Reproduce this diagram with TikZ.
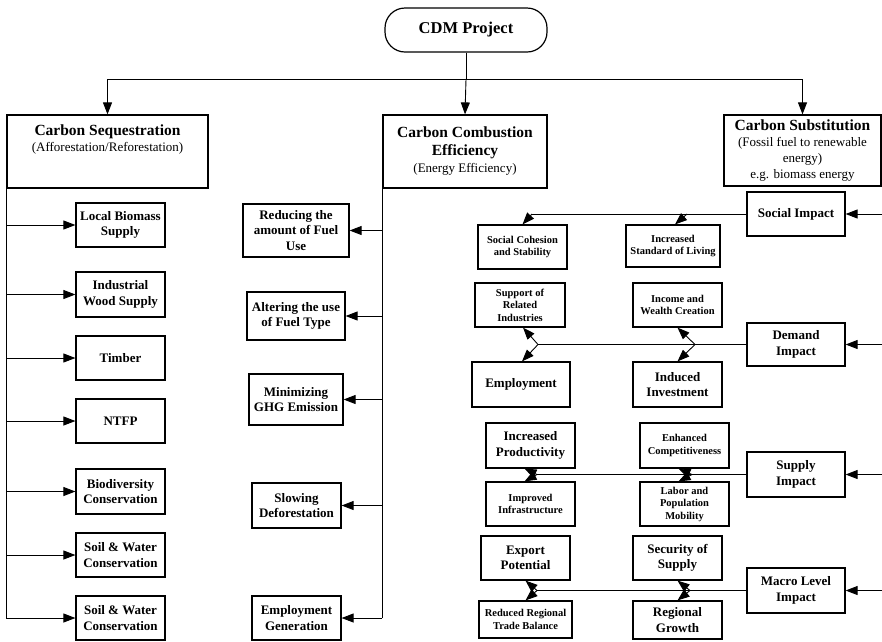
\documentclass[tikz,border=0pt]{standalone}
\usepackage{fontspec}
\setmainfont{Liberation Serif}
\usetikzlibrary{arrows.meta}
\begin{document}
\begin{tikzpicture}[x=1pt,y=-1pt,
  box/.style={draw, line width=1.2pt, align=center, inner sep=1pt,
    font=\bfseries\fontsize{13}{15.5}\selectfont},
  smallbox/.style={box, font=\bfseries\fontsize{10.5}{12.5}\selectfont},
  titlebox/.style={draw, line width=1.2pt, align=center, inner sep=1pt,
    font=\fontsize{13}{16}\selectfont},
  arr/.style={-{Triangle[length=12pt,width=9pt]}, line width=0.9pt},
  ln/.style={line width=0.9pt}]
\useasboundingbox (0,0) rectangle (882,641);

% root and the three branches
\node[draw, line width=1.2pt, rounded corners=20pt, minimum width=162pt, minimum height=44pt,
  font=\bfseries\fontsize{16.5}{19}\selectfont] (cdm) at (466,30) {CDM Project};
\node[titlebox, minimum width=201pt, minimum height=73pt] (seq) at (107.5,151.5) {};
\node[align=center, font=\fontsize{13}{16}\selectfont] (seqtxt) at (107.5,139)
  {{\bfseries\fontsize{15.5}{18}\selectfont Carbon Sequestration}\\(Afforestation/Reforestation)};
\node[titlebox, minimum width=164pt, minimum height=73pt] (comb) at (465,151.5)
  {{\bfseries\fontsize{15.5}{18}\selectfont Carbon Combustion}\\[2pt]{\bfseries\fontsize{15.5}{18}\selectfont Efficiency}\\[1pt](Energy Efficiency)};
\node[titlebox, minimum width=157pt, minimum height=71pt] (subst) at (802.5,150.5)
  {{\bfseries\fontsize{15.5}{18}\selectfont Carbon Substitution}\\(Fossil fuel to renewable\\energy)\\e.g. biomass energy};

\coordinate (hub) at (466,79);
\draw[ln] (cdm.south) -- (hub);
\draw[ln] (seq.north |- hub) -- (subst.north |- hub);
\draw[arr] (seq.north |- hub) -- (seq.north);
\draw[arr] (hub) -- (comb.north);
\draw[arr] (subst.north |- hub) -- (subst.north);

% sequestration outputs
\node[box, minimum width=89pt, minimum height=44pt] (lbs) at (120.5,225) {Local Biomass\\Supply};
\node[box, minimum width=89pt, minimum height=45pt] (iws) at (120.5,294.5) {Industrial\\Wood Supply};
\node[box, minimum width=89pt, minimum height=44pt] (tim) at (120.5,358) {Timber};
\node[box, minimum width=89pt, minimum height=44pt] (ntfp) at (120.5,421) {NTFP};
\node[box, minimum width=89pt, minimum height=45pt] (bio) at (120.5,491.5) {Biodiversity\\Conservation};
\node[box, minimum width=89pt, minimum height=44pt] (swa) at (120.5,555) {Soil \& Water\\Conservation};
\node[box, minimum width=89pt, minimum height=44pt] (swb) at (120.5,618) {Soil \& Water\\Conservation};

\draw[ln] (seq.south west) -- (seq.south west |- swb.west);
\foreach \n in {lbs,iws,tim,ntfp,bio,swa,swb}
  \draw[arr] (seq.south west |- \n.west) -- (\n.west);

% combustion efficiency outputs
\node[box, minimum width=106pt, minimum height=53pt] (red) at (296,230.5) {Reducing the\\amount of Fuel\\Use};
\node[box, minimum width=98pt, minimum height=48pt] (alt) at (296,316) {Altering the use\\of Fuel Type};
\node[box, minimum width=94pt, minimum height=51pt] (ghg) at (296,399.5) {Minimizing\\GHG Emission};
\node[box, minimum width=89pt, minimum height=45pt] (slow) at (296.5,505.5) {Slowing\\Deforestation};
\node[box, minimum width=89pt, minimum height=44pt] (empg) at (296.5,618) {Employment\\Generation};

\draw[ln] (comb.south west) -- (comb.south west |- empg.east);
\foreach \n in {red,alt,ghg,slow,empg}
  \draw[arr] (comb.south west |- \n.east) -- (\n.east);

% substitution impacts
\coordinate (edge) at (882,0);
\node[box, minimum width=98pt, minimum height=44pt] (soc) at (796,214) {Social Impact};
\node[box, minimum width=98pt, minimum height=43pt] (dem) at (796,344.5) {Demand\\Impact};
\node[box, minimum width=98pt, minimum height=45pt] (sup) at (796,474.5) {Supply\\Impact};
\node[box, minimum width=98pt, minimum height=45pt] (mac) at (796,590.5) {Macro Level\\Impact};
\foreach \n in {soc,dem,sup,mac}
  \draw[arr] (edge |- \n.east) -- (\n.east);

% social
\node[smallbox, minimum width=89pt, minimum height=44pt] (sco) at (522.5,247) {Social Cohesion\\and Stability};
\node[smallbox, minimum width=94pt, minimum height=42pt] (isl) at (673,246) {Increased\\Standard of Living};
\coordinate (sj) at (532,214);
\coordinate (sk) at (687,214);
\draw[ln] (soc.west) -- (sj);
\draw[arr] (sj) -- (sco.north);
\draw[arr] (sk) -- ([xshift=2pt]isl.north);

% demand
\node[smallbox, minimum width=90pt, minimum height=44pt] (sri) at (520,305) {Support of\\Related\\Industries};
\node[smallbox, minimum width=89pt, minimum height=44pt] (iwc) at (677.5,305) {Income and\\Wealth Creation};
\node[box, minimum width=98pt, minimum height=45pt] (emp) at (521,384.5) {Employment};
\node[box, minimum width=89pt, minimum height=45pt] (ii) at (677.5,384.5) {Induced\\Investment};
\coordinate (dj) at (538,344.5);
\coordinate (dk) at (695,344.5);
\draw[ln] (dem.west) -- (dj);
\draw[arr] (dj) -- ([xshift=3pt]sri.south);
\draw[arr] (dj) -- ([xshift=1pt]emp.north);
\draw[arr] (dk) -- (iwc.south);
\draw[arr] (dk) -- (ii.north);

% supply
\node[box, minimum width=89pt, minimum height=45pt] (ip) at (530.5,445.5) {Increased\\Productivity};
\node[smallbox, minimum width=89pt, minimum height=45pt] (ec) at (684.5,445.5) {Enhanced\\Competitiveness};
\node[smallbox, minimum width=89pt, minimum height=44pt] (iinf) at (530.5,504) {Improved\\Infrastructure};
\node[smallbox, minimum width=89pt, minimum height=44pt] (lpm) at (684.5,504) {Labor and\\Population\\Mobility};
\coordinate (pj) at (537,474.5);
\coordinate (pk) at (692,474.5);
\draw[ln] (sup.west) -- (pj);
\draw[arr] (pj) -- ([xshift=-6pt]ip.south);
\draw[arr] (pj) -- ([xshift=-6pt]iinf.north);
\draw[arr] (pk) -- ([xshift=-6pt]ec.south);
\draw[arr] (pk) -- ([xshift=-6pt]lpm.north);

% macro level
\node[box, minimum width=89pt, minimum height=44pt] (ep) at (525.5,558) {Export\\Potential};
\node[box, minimum width=89pt, minimum height=44pt] (sos) at (677.5,558) {Security of\\Supply};
\node[smallbox, minimum width=93pt, minimum height=37pt] (rtb) at (525.5,619.5) {Reduced Regional\\Trade Balance};
\node[box, minimum width=89pt, minimum height=38pt] (rg) at (677.5,620) {Regional\\Growth};
\coordinate (mj) at (537,590.5);
\coordinate (mk) at (690,590.5);
\draw[ln] (mac.west) -- (mj);
\draw[arr] (mj) -- (ep.south);
\draw[arr] (mj) -- (rtb.north);
\draw[arr] (mk) -- (sos.south);
\draw[arr] (mk) -- (rg.north);
\end{tikzpicture}
\end{document}
